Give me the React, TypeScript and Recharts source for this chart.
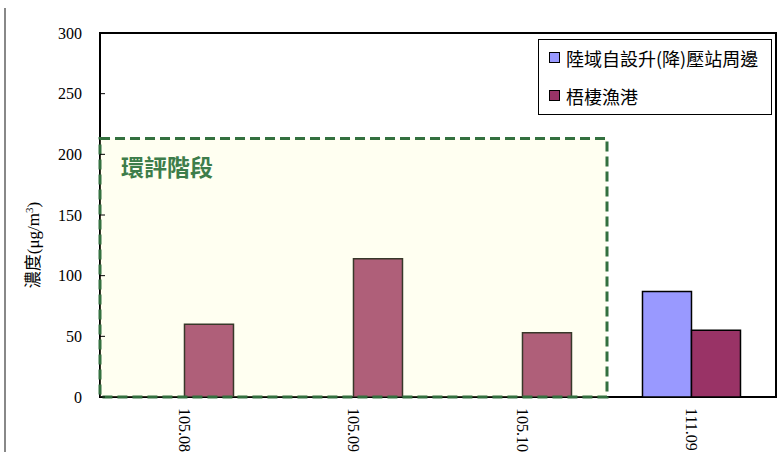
import { BarChart, Bar, XAxis, YAxis, Legend, ReferenceArea } from 'recharts';

const categories = ['105.08', '105.09', '105.10', '111.09'];
const landSubstation = [null, null, null, 87];
const wuqiHarbor = [60, 114, 53, 55];
const yTicks = [0, 50, 100, 150, 200, 250, 300];
const seriesNames = ['陸域自設升(降)壓站周邊', '梧棲漁港'];
const seriesColors = ['#9999FF', '#993366'];
const eiaLabel = '環評階段';
const eiaRange = ['105.08', '105.10'];
const eiaTop = 213;

const data = categories.map((c, i) => ({
  name: c,
  land: landSubstation[i],
  harbor: wuqiHarbor[i],
}));

const SERIF = 'Liberation Serif, Times New Roman, DejaVu Serif, serif';
const CJK = 'Noto Sans CJK TC, Noto Sans, sans-serif';

function XTick(props: any) {
  const { x, y, payload } = props;
  const ty = y + 11;
  return (
    <text
      x={x}
      y={ty}
      dy="0.35em"
      transform={`rotate(90 ${x} ${ty})`}
      textAnchor="start"
      fontFamily={SERIF}
      fontSize={16}
      fill="#000"
    >
      {payload.value}
    </text>
  );
}

function YTick(props: any) {
  const { y, payload } = props;
  return (
    <g>
      <line x1={100} x2={105} y1={y} y2={y} stroke="#000" strokeWidth={1} />
      <text x={82} y={y} dy="0.35em" textAnchor="end" fontFamily={SERIF} fontSize={16} fill="#000">
        {payload.value}
      </text>
    </g>
  );
}

function YLabel() {
  return (
    <text
      x={33}
      y={245}
      transform="rotate(-90 33 245)"
      textAnchor="middle"
      dy="0.35em"
      fontFamily={SERIF}
      fontSize={17}
      fill="#000"
    >
      <tspan fontFamily={CJK}>濃度</tspan>
      <tspan>(μg/m</tspan>
      <tspan fontSize={11} dy={-6}>3</tspan>
      <tspan dy={6}>)</tspan>
    </text>
  );
}

function LegendBox() {
  return (
    <div
      style={{
        boxSizing: 'border-box',
        width: 234,
        height: 76,
        border: '1.5px solid #000',
        background: '#fff',
        padding: '2px 0 0 10px',
        fontFamily: CJK,
        fontSize: 18,
        color: '#000',
      }}
    >
      {seriesNames.map((n, i) => (
        <div key={n} style={{ display: 'flex', alignItems: 'center', height: 31, marginBottom: 7 }}>
          <div style={{ width: 9, height: 9, background: seriesColors[i], border: '1.5px solid #000', marginRight: 6 }} />
          <span style={{ lineHeight: 1 }}>{n}</span>
        </div>
      ))}
    </div>
  );
}

export default function App() {
  return (
    <div style={{ position: 'absolute', left: 0, top: 0, width: 780, height: 452, background: '#fff' }}>
      <div style={{ position: 'absolute', left: 4, top: 8, width: 2, height: 444, background: '#888' }} />
      <BarChart
        width={780}
        height={452}
        data={data}
        margin={{ top: 33, right: 4, bottom: 0, left: 0 }}
        barCategoryGap="21%"
        barGap={0}
      >
        <XAxis
          dataKey="name"
          height={55}
          axisLine={false}
          tickLine={false}
          tickSize={0}
          tickMargin={0}
          tick={<XTick />}
          interval={0}
        />
        <YAxis
          width={100}
          domain={[0, 300]}
          ticks={yTicks}
          axisLine={false}
          tickLine={false}
          tick={<YTick />}
          label={<YLabel />}
        />
        <ReferenceArea y1={0} y2={300} fill="none" stroke="#000" strokeWidth={2} ifOverflow="visible" />
        <Bar
          dataKey="land"
          name={seriesNames[0]}
          fill={seriesColors[0]}
          stroke="#000"
          strokeWidth={1.5}
          isAnimationActive={false}
        />
        <Bar
          dataKey="harbor"
          name={seriesNames[1]}
          fill={seriesColors[1]}
          stroke="#000"
          strokeWidth={1.5}
          isAnimationActive={false}
        />
        <ReferenceArea
          x1={eiaRange[0]}
          x2={eiaRange[1]}
          y1={0}
          y2={eiaTop}
          fill="#FFFFC0"
          fillOpacity={0.22}
          stroke="#33703f"
          strokeWidth={3}
          strokeDasharray="10 5"
          ifOverflow="visible"
          zIndex={350}
          label={{
            value: eiaLabel,
            position: 'insideTopLeft',
            offset: 21,
            fill: '#3d7d4a',
            fontSize: 23,
            fontWeight: 'bold',
            fontFamily: CJK,
          }}
        />
        <Legend
          verticalAlign="middle"
          layout="horizontal"
          content={<LegendBox />}
          wrapperStyle={{ left: 538, top: 39, width: 234, height: 76 }}
        />
      </BarChart>
    </div>
  );
}
